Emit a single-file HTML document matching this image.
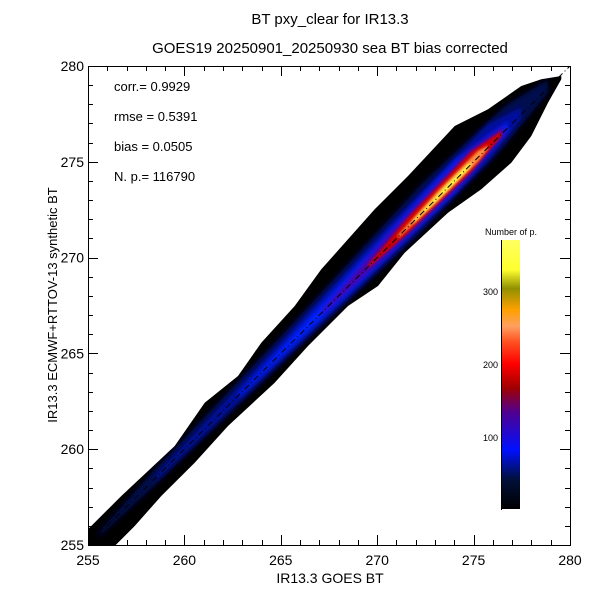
<!DOCTYPE html>
<html><head><meta charset="utf-8"><style>
html,body{margin:0;padding:0;background:#fff;}
svg{display:block;font-family:"Liberation Sans",sans-serif;}
</style></head><body>
<svg id="s" width="600" height="600" xmlns="http://www.w3.org/2000/svg">
<rect width="600" height="600" fill="#fff"/>
<defs>
<filter id="b" x="-10%" y="-10%" width="120%" height="120%"><feGaussianBlur stdDeviation="2.5"/></filter>
<filter id="b2" x="-10%" y="-10%" width="120%" height="120%"><feGaussianBlur stdDeviation="1.2"/></filter>
<linearGradient id="cb" x1="0" y1="1" x2="0" y2="0">
<stop offset="0" stop-color="#000000"/>
<stop offset="0.11" stop-color="#00103a"/>
<stop offset="0.22" stop-color="#0010ff"/>
<stop offset="0.36" stop-color="#500090"/>
<stop offset="0.45" stop-color="#a00000"/>
<stop offset="0.54" stop-color="#ff0000"/>
<stop offset="0.62" stop-color="#ff5020"/>
<stop offset="0.68" stop-color="#ffa060"/>
<stop offset="0.74" stop-color="#ffa000"/>
<stop offset="0.82" stop-color="#909000"/>
<stop offset="0.89" stop-color="#ffff30"/>
<stop offset="1" stop-color="#ffff60"/>
</linearGradient>
<clipPath id="cp"><rect x="88" y="66" width="482" height="479"/></clipPath>
<clipPath id="cb2"><polygon id="cpoly" points=""/></clipPath>
</defs>
<g clip-path="url(#cp)"><g id="dens"></g><g id="inner" clip-path="url(#cb2)"></g><line x1="88" y1="545" x2="570" y2="66" stroke="#000" stroke-dasharray="6,3,1,3"/></g>
<g id="ax" stroke="#000" fill="none" stroke-width="1"></g>
<text x="330" y="24" font-size="15" text-anchor="middle">BT pxy_clear for IR13.3</text>
<text x="330" y="53" font-size="15" text-anchor="middle">GOES19 20250901_20250930 sea BT bias corrected</text>
<g font-size="13">
<text x="114" y="91">corr.= 0.9929</text>
<text x="114" y="121">rmse = 0.5391</text>
<text x="114" y="151">bias = 0.0505</text>
<text x="114" y="181">N. p.=  116790</text>
</g>
<text x="330" y="583" font-size="14" text-anchor="middle">IR13.3 GOES BT</text>
<text transform="translate(57,305) rotate(-90)" font-size="13" text-anchor="middle">IR13.3 ECMWF+RTTOV-13 synthetic BT</text>
<rect x="502" y="240" width="18" height="269" fill="url(#cb)"/>
<line x1="501.5" y1="240" x2="501.5" y2="510" stroke="#000"/>
<text x="511" y="235" font-size="9" text-anchor="middle">Number of p.</text>
<g font-size="9" text-anchor="end"><text x="498" y="295">300</text><text x="498" y="368">200</text><text x="498" y="441">100</text></g>
</svg>
<script>
var ns="http://www.w3.org/2000/svg";
function P(zx,zy){return (88+zx/3).toFixed(1)+","+(66+zy/3).toFixed(1);}
function poly(par,pts,fill,filt){var p=document.createElementNS(ns,"polygon");p.setAttribute("points",pts.join(" "));p.setAttribute("fill",fill);if(filt)p.setAttribute("filter",filt);par.appendChild(p);}
var up=[[0,1390],[60,1330],[100,1290],[180,1215],[260,1140],[350,1010],[450,930],[520,830],[620,720],[700,610],[780,520],[860,430],[960,330],[1100,180],[1200,130],[1300,60],[1360,40],[1420,30]];
var dn=[[1420,40],[1380,110],[1330,210],[1270,290],[1180,370],[1080,440],[950,560],[870,660],[780,720],[660,840],[560,950],[420,1080],[320,1190],[220,1290],[140,1380],[80,1440],[0,1440]];
var bp=up.concat(dn).map(function(a){return P(a[0],a[1]);});
poly(document.getElementById("dens"),bp,"#000");
document.getElementById("cpoly").setAttribute("points",bp.join(" "));
function cy(zx){return 1440-zx*0.996;}
var layers=[
["#000850",[[30,8],[200,30],[600,55],[1000,90],[1250,75],[1380,25]],"url(#b)"],
["#0010a0",[[200,8],[500,30],[900,62],[1200,70],[1300,22]],"url(#b)"],
["#0020ff",[[450,6],[800,36],[1100,60],[1260,18]],"url(#b)"],
["#5000a0",[[700,6],[900,36],[1150,46],[1250,14]],"url(#b)"],
["#d00000",[[840,6],[960,30],[1150,38],[1240,10]],"url(#b2)"],
["#ff9040",[[930,6],[1050,20],[1170,20],[1200,6]],"url(#b2)"],
["#ffff40",[[975,4],[1080,11],[1140,10],[1150,3]],"url(#b2)"]];
var gi=document.getElementById("inner");
layers.forEach(function(L){
 var a=[],b=[];
 L[1].forEach(function(q){a.push(P(q[0],cy(q[0])-q[1]));b.unshift(P(q[0],cy(q[0])+q[1]*0.6));});
 poly(gi,a.concat(b),L[0],L[2]);
});
var X0=88,X1=570,Y0=545,Y1=66;
function px(x){return X0+(x-255)*(X1-X0)/25;}
function py(y){return Y0-(y-255)*(Y0-Y1)/25;}
var h='<rect x="88.5" y="66.5" width="482" height="479"/>',lab="";
for(var v=255;v<=280;v++){var L=(v%5==0)?10:5,x=Math.round(px(v))+0.5,y=Math.round(py(v))+0.5;
 h+='<line x1="'+x+'" y1="'+Y0+'" x2="'+x+'" y2="'+(Y0-L)+'"/><line x1="'+x+'" y1="'+Y1+'" x2="'+x+'" y2="'+(Y1+L)+'"/>';
 h+='<line x1="'+X0+'" y1="'+y+'" x2="'+(X0+L)+'" y2="'+y+'"/><line x1="'+X1+'" y1="'+y+'" x2="'+(X1-L)+'" y2="'+y+'"/>';
 if(v%5==0){lab+='<text x="'+px(v)+'" y="565" font-size="14" text-anchor="middle">'+v+'</text><text x="84" y="'+(py(v)+5)+'" font-size="14" text-anchor="end">'+v+'</text>';}
}
document.getElementById("ax").innerHTML=h;
var lg=document.createElementNS(ns,"g");lg.innerHTML=lab;document.getElementById("s").appendChild(lg);
</script>
</body></html>
